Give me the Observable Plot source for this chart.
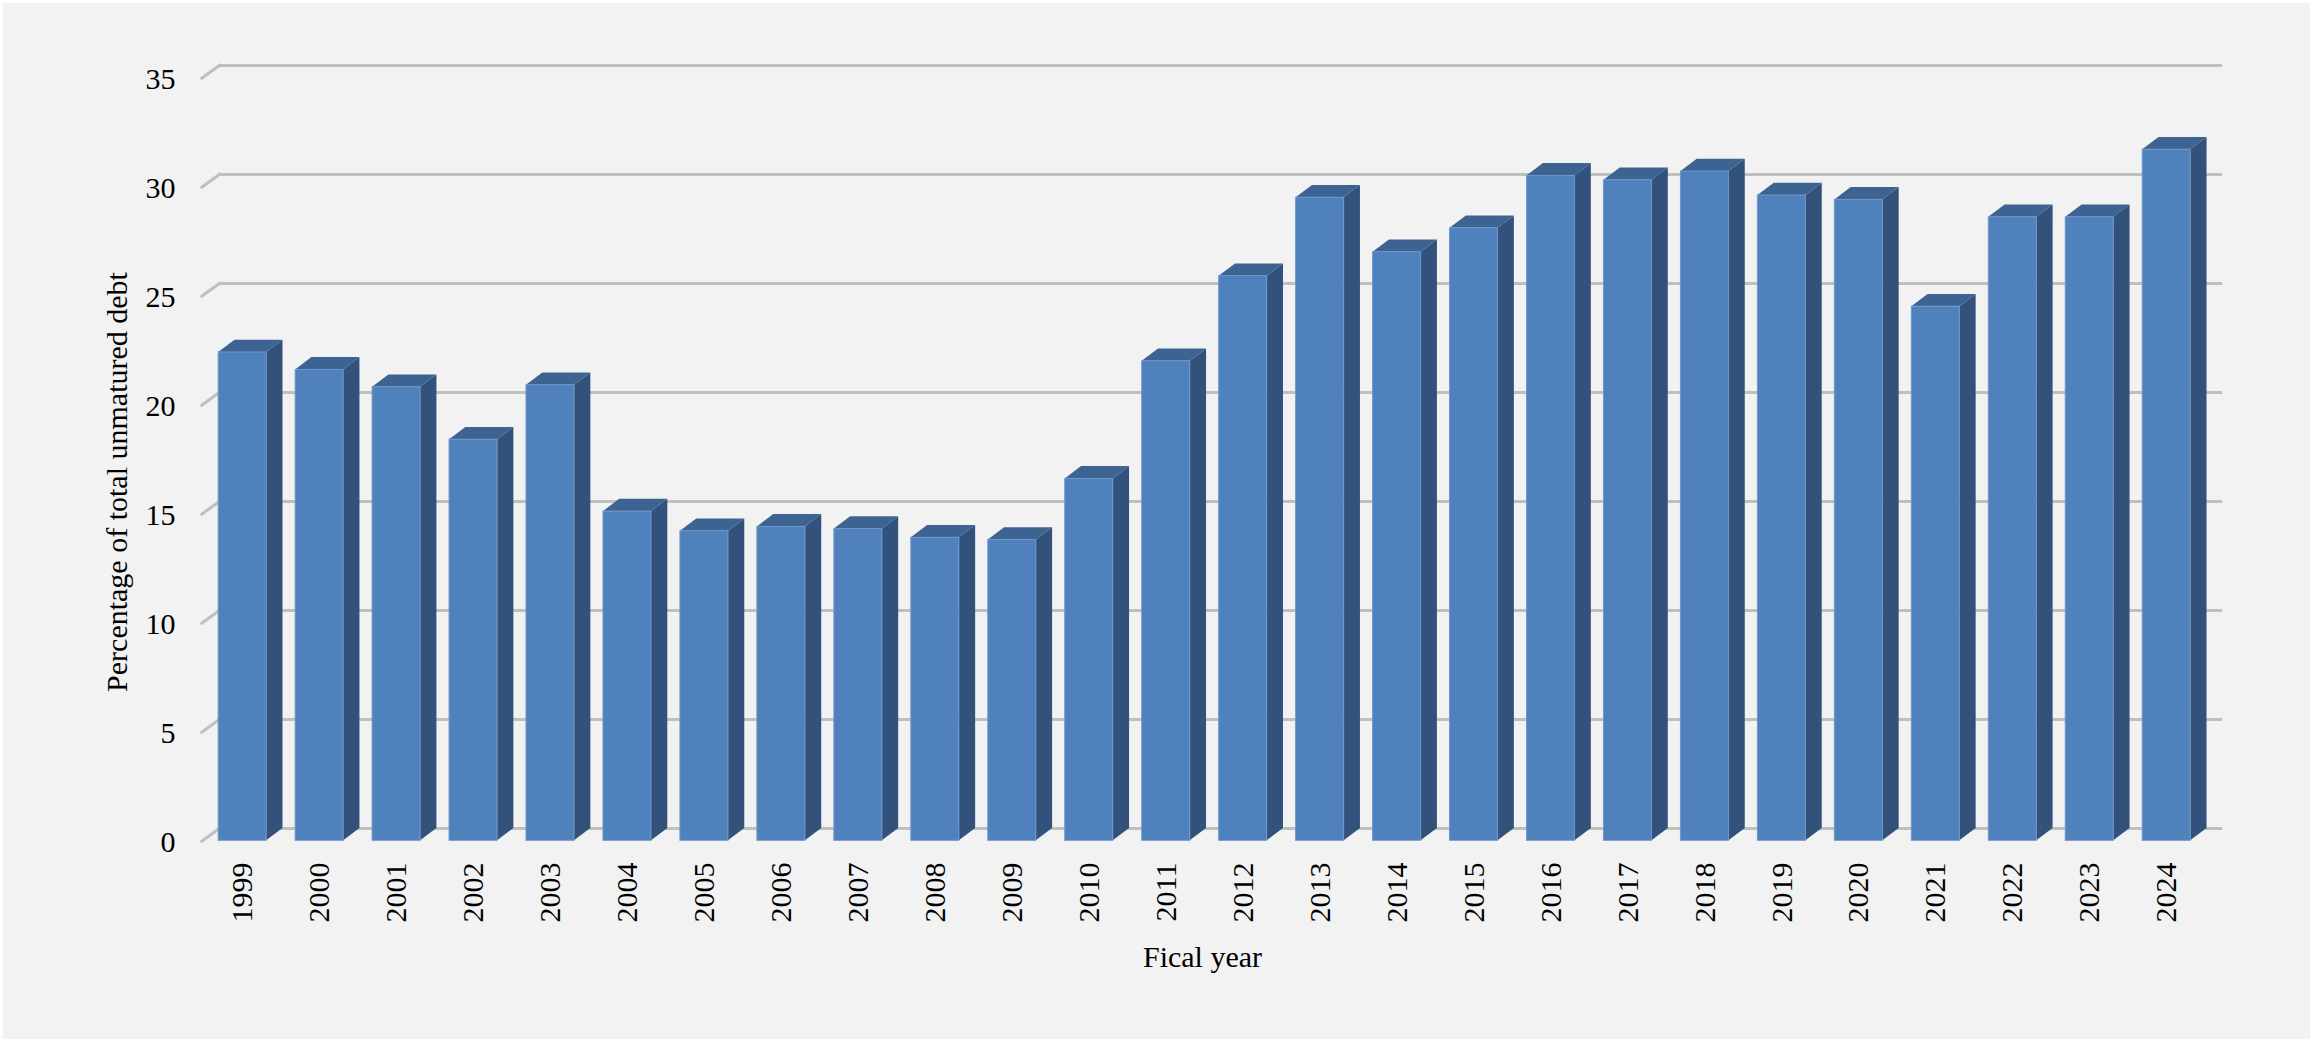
<!DOCTYPE html>
<html>
<head>
<meta charset="utf-8">
<script src="https://cdn.jsdelivr.net/npm/d3@7"></script>
<script src="https://cdn.jsdelivr.net/npm/@observablehq/plot@0.6"></script>
<style>
  html, body { margin: 0; padding: 0; background: #ffffff; }
  #chart { position: absolute; left: 3px; top: 3px; width: 2307px; height: 1036px; background: #f2f2f2; }
  #chart svg { display: block; }
</style>
</head>
<body>
<div id="chart"></div>
<script>
// ---- data ----
const years = ["1999","2000","2001","2002","2003","2004","2005","2006","2007","2008","2009","2010","2011","2012","2013","2014","2015","2016","2017","2018","2019","2020","2021","2022","2023","2024"];
const values = [22.4,21.6,20.8,18.4,20.9,15.1,14.2,14.4,14.3,13.9,13.8,16.6,22.0,25.9,29.5,27.0,28.1,30.5,30.3,30.7,29.6,29.4,24.5,28.6,28.6,31.7];
const yTicks = [0,5,10,15,20,25,30,35];
const yTitle = "Percentage of total unmatured debt";
const xTitle = "Fical year";

const data = years.map((year, i) => ({year, value: values[i]}));

// ---- style ----
const FRONT = "#4f81bd", SIDE = "#32527b", TOP = "#3c6391", EDGE = "#6f97ca";
const GRID = "#bfbfbf";
const FONT = "'Liberation Serif', 'Times New Roman', serif";
const DX = -16.3, DY = 12.3;   // bar depth (front face relative to back)
const GX = -18.3, GY = 13.3;   // floor / wall depth

// diagonal stubs of gridlines on the left side wall
function wallStubs(index, scales, vals, dims) {
  const y = scales.y;
  const g = d3.create("svg:g")
    .attr("stroke", GRID).attr("stroke-width", 3).attr("stroke-linecap", "round");
  for (const t of yTicks) {
    const yy = y(t), xx = dims.marginLeft;
    g.append("line").attr("x1", xx).attr("y1", yy).attr("x2", xx + GX).attr("y2", yy + GY);
  }
  return g.node();
}

// side and top faces of each 3D column
function columnFaces(index, scales, vals, dims) {
  const x = scales.x, y = scales.y;
  const bw = typeof x.bandwidth === "function" ? x.bandwidth() : x.bandwidth;
  const y0 = y(0);
  const g = d3.create("svg:g");
  for (const d of data) {
    const xl = x(d.year), xr = xl + bw, yt = y(d.value);
    g.append("path")
      .attr("d", `M${xr + DX},${yt + DY}L${xr},${yt}L${xr},${y0}L${xr + DX},${y0 + DY}Z`)
      .attr("fill", SIDE);
    g.append("path")
      .attr("d", `M${xl + DX},${yt + DY}L${xl},${yt}L${xr},${yt}L${xr + DX},${yt + DY}Z`)
      .attr("fill", TOP);
  }
  return g.node();
}

const chart = Plot.plot({
  width: 2307,
  height: 1036,
  marginLeft: 217,
  marginRight: 89,
  marginTop: 62,
  marginBottom: 211,
  style: {background: "transparent", fontFamily: FONT, fontSize: "30px", color: "#000"},
  x: {type: "band", domain: years, paddingInner: 0.376, paddingOuter: 0.188, round: false},
  y: {domain: [0, 35]},
  marks: [
    Plot.ruleY(yTicks, {stroke: GRID, strokeWidth: 3, strokeLinecap: "round"}),
    wallStubs,
    columnFaces,
    Plot.barY(data, {x: "year", y: "value", fill: FRONT, dx: DX, dy: DY, stroke: EDGE, strokeWidth: 1}),
    Plot.axisY({ticks: yTicks, tickSize: 0, tickPadding: 45, dy: 13.8, fontSize: 30, fontFamily: FONT, label: null}),
    Plot.axisX({tickSize: 0, tickPadding: 34, tickRotate: -90, dx: DX, fontSize: 30, fontFamily: FONT, label: null}),
    Plot.text([yTitle], {text: d => d, frameAnchor: "left", textAnchor: "middle", dx: -103, dy: 35, rotate: -90, fontSize: 30, fontFamily: FONT, fill: "#000"}),
    Plot.text([xTitle], {text: d => d, frameAnchor: "bottom", textAnchor: "middle", dx: -18.5, dy: 138, fontSize: 30, fontFamily: FONT, fill: "#000"})
  ]
});
document.getElementById("chart").appendChild(chart);
</script>
</body>
</html>
